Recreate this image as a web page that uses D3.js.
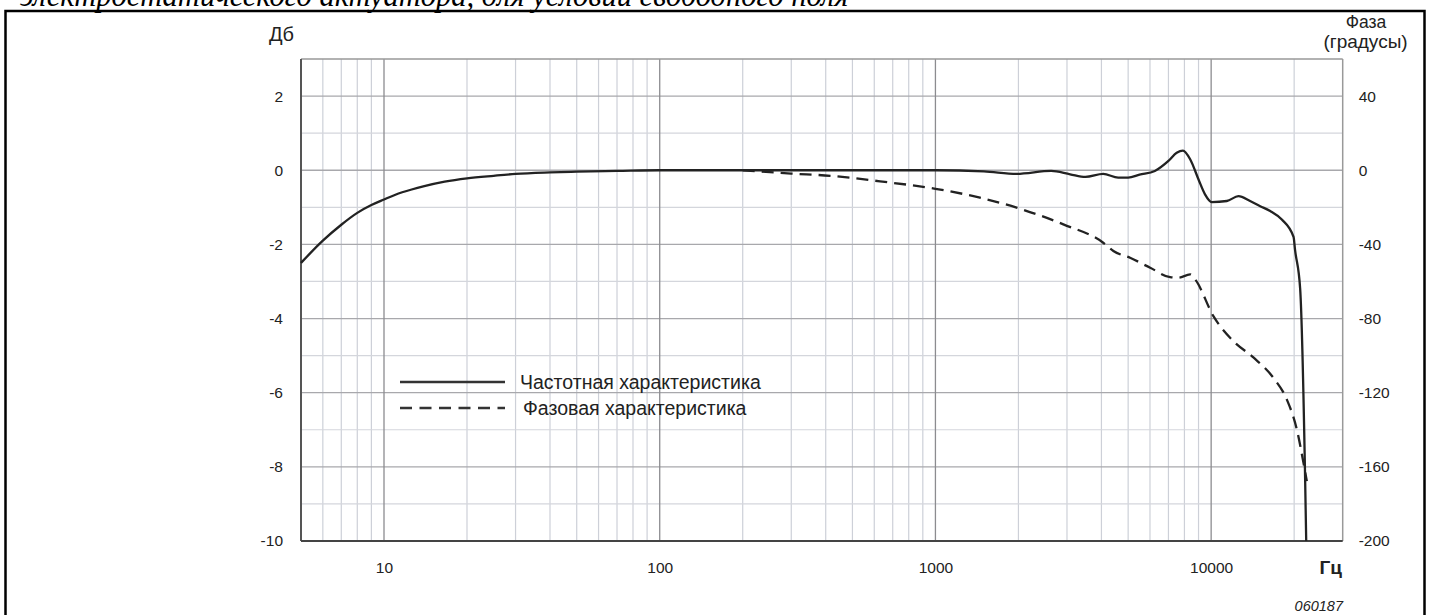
<!DOCTYPE html>
<html>
<head>
<meta charset="utf-8">
<script src="https://cdn.jsdelivr.net/npm/d3@7"></script>
<style>
  body { margin: 0; background: #fff; }
  svg text { font-family: "Liberation Sans", Arial, sans-serif; fill: #222; }
</style>
</head>
<body>
<div id="chart"></div>
<script>
// amplitude response, dB
let ampFreq = [5, 6, 7, 8, 9, 10, 11, 12.6, 14, 16.6, 20, 25, 30, 40, 50, 70, 100, 200, 500, 1000, 1500, 1970, 2630, 3080, 3500, 4060, 4600, 5000, 5500, 6250, 7000, 7500, 7900, 8400, 9000, 9500, 10050, 11400, 12560, 13840, 15060, 16370, 18040, 19900, 20150, 21030, 21930, 22120];
let ampDb = [-2.5, -1.9, -1.47, -1.15, -0.94, -0.79, -0.66, -0.52, -0.43, -0.31, -0.22, -0.15, -0.1, -0.06, -0.04, -0.02, 0, 0, 0, 0, -0.03, -0.1, -0.02, -0.11, -0.18, -0.1, -0.2, -0.2, -0.12, -0.02, 0.25, 0.47, 0.53, 0.29, -0.25, -0.65, -0.86, -0.83, -0.7, -0.83, -0.97, -1.1, -1.33, -1.8, -2.15, -3.2, -8.4, -10];

// phase response, degrees
let phaseFreq = [200, 300, 416, 630, 1000, 1450, 1970, 2910, 4060, 4420, 5080, 6010, 7100, 7600, 8390, 8750, 10190, 12040, 14230, 16820, 18800, 20450, 21620, 22230];
let phaseDeg = [0, -1.8, -3, -6, -10, -14.8, -20.2, -29.2, -39.1, -43.6, -47.2, -52.6, -57.7, -58, -56.2, -58.9, -78.7, -92.2, -101, -112, -123.6, -139.8, -157.8, -167.7];

let dbTicks = [-10, -8, -6, -4, -2, 0, 2];
let phaseTicks = [-200, -160, -120, -80, -40, 0, 40];
let freqTicks = [10, 100, 1000, 10000];
let legendLabels = ["Частотная характеристика", "Фазовая характеристика"];

let width = 1431, height = 615;
let plotL = 301, plotR = 1342.7, plotT = 59, plotB = 541;

let svg = d3.select("#chart").append("svg")
  .attr("width", width)
  .attr("height", height);

let x = d3.scaleLog().domain([5, 30000]).range([plotL, plotR]);
let y = d3.scaleLinear().domain([-10, 3]).range([plotB, plotT]);
let yPhase = d3.scaleLinear().domain([-200, 60]).range([plotB, plotT]);

// caption, cut at the top like the source page
svg.append("text")
  .attr("x", 20).attr("y", 6)
  .style("font-family", "'Liberation Serif', serif")
  .style("font-style", "italic")
  .style("font-size", "30.5px")
  .style("fill", "#000")
  .text("электростатического актуатора, для условий свободного поля");

// outer frame
svg.append("rect")
  .attr("x", 5.5).attr("y", 11)
  .attr("width", 1419).attr("height", 640)
  .attr("fill", "none")
  .attr("stroke", "#000")
  .attr("stroke-width", 2.5);

// grid
let minorF = [];
[1, 10, 100, 1000, 10000].forEach(function (d) {
  for (let k = 2; k <= 9; k++) {
    let f = k * d;
    if (f > 5 && f < 30000) minorF.push(f);
  }
});
let grid = svg.append("g");
grid.selectAll(".vmin").data(minorF).enter().append("line")
  .attr("x1", d => x(d)).attr("x2", d => x(d))
  .attr("y1", plotT).attr("y2", plotB)
  .attr("stroke", "#cdd0d8").attr("stroke-width", 1.2);
grid.selectAll(".hmin").data(d3.range(-9, 3, 2)).enter().append("line")
  .attr("x1", plotL).attr("x2", plotR)
  .attr("y1", d => y(d)).attr("y2", d => y(d))
  .attr("stroke", "#d4d6dc").attr("stroke-width", 1.2);
grid.selectAll(".hmaj").data(dbTicks.slice(1)).enter().append("line")
  .attr("x1", plotL).attr("x2", plotR)
  .attr("y1", d => y(d)).attr("y2", d => y(d))
  .attr("stroke", "#a8a8ac").attr("stroke-width", 1.3);
grid.selectAll(".vmaj").data(freqTicks).enter().append("line")
  .attr("x1", d => x(d)).attr("x2", d => x(d))
  .attr("y1", plotT).attr("y2", plotB)
  .attr("stroke", "#8c8c90").attr("stroke-width", 1.3);

// plot frame
svg.append("line").attr("x1", plotL).attr("x2", plotR).attr("y1", plotT).attr("y2", plotT)
  .attr("stroke", "#999").attr("stroke-width", 1.5);
svg.append("line").attr("x1", plotR).attr("x2", plotR).attr("y1", plotT).attr("y2", plotB)
  .attr("stroke", "#999").attr("stroke-width", 1.5);
svg.append("line").attr("x1", plotL).attr("x2", plotL).attr("y1", plotT).attr("y2", plotB)
  .attr("stroke", "#555").attr("stroke-width", 2);
svg.append("line").attr("x1", plotL).attr("x2", plotR).attr("y1", plotB).attr("y2", plotB)
  .attr("stroke", "#444").attr("stroke-width", 2);

// axes (labels only), plain hyphen for negatives
let plain = d => String(d);
let axL = svg.append("g").attr("transform", "translate(" + plotL + ",0)")
  .call(d3.axisLeft(y).tickValues(dbTicks).tickFormat(plain).tickSize(0).tickPadding(18));
let axR = svg.append("g").attr("transform", "translate(" + plotR + ",0)")
  .call(d3.axisRight(yPhase).tickValues(phaseTicks).tickFormat(plain).tickSize(0).tickPadding(16));
let axB = svg.append("g").attr("transform", "translate(0," + plotB + ")")
  .call(d3.axisBottom(x).tickValues(freqTicks).tickFormat(plain).tickSize(0).tickPadding(21));
[axL, axR, axB].forEach(function (a) {
  a.select(".domain").remove();
  a.selectAll("text").style("font-family", "'Liberation Sans', Arial, sans-serif")
    .style("font-size", "15.5px").style("fill", "#222");
});

// axis titles
svg.append("text").attr("x", 281.5).attr("y", 41).attr("text-anchor", "middle")
  .style("font-size", "20px").text("Дб");
svg.append("text").attr("x", 1366).attr("y", 28).attr("text-anchor", "middle")
  .style("font-size", "17.5px").text("Фаза");
svg.append("text").attr("x", 1365.5).attr("y", 48).attr("text-anchor", "middle")
  .style("font-size", "19px").text("(градусы)");
svg.append("text").attr("x", 1342).attr("y", 574).attr("text-anchor", "end")
  .style("font-size", "19px").style("font-weight", "bold").text("Гц");
svg.append("text").attr("x", 1343).attr("y", 611).attr("text-anchor", "end")
  .style("font-size", "14.5px").style("font-style", "italic").text("060187");

// curves
let ampData = ampFreq.map((f, i) => [f, ampDb[i]]);
let phaseData = phaseFreq.map((f, i) => [f, phaseDeg[i]]);

let ampLine = d3.line().x(d => x(d[0])).y(d => y(d[1])).curve(d3.curveMonotoneX);
let phaseLine = d3.line().x(d => x(d[0])).y(d => yPhase(d[1])).curve(d3.curveMonotoneX);

svg.append("path").datum(phaseData)
  .attr("d", phaseLine)
  .attr("fill", "none").attr("stroke", "#222").attr("stroke-width", 2.3)
  .attr("stroke-dasharray", "12,7");
svg.append("path").datum(ampData)
  .attr("d", ampLine)
  .attr("fill", "none").attr("stroke", "#222").attr("stroke-width", 2.3);

// legend
let legend = svg.append("g");
legend.selectAll("line").data(legendLabels).enter().append("line")
  .attr("x1", 400).attr("x2", 505)
  .attr("y1", (d, i) => 382 + i * 26).attr("y2", (d, i) => 382 + i * 26)
  .attr("stroke", "#333").attr("stroke-width", 2.3)
  .attr("stroke-dasharray", (d, i) => i ? "12,7.5" : null);
legend.selectAll("text").data(legendLabels).enter().append("text")
  .attr("x", (d, i) => 520 + i * 3).attr("y", (d, i) => 382 + i * 26)
  .attr("dy", "0.35em")
  .style("font-size", "19.5px")
  .text(d => d);
</script>
</body>
</html>
